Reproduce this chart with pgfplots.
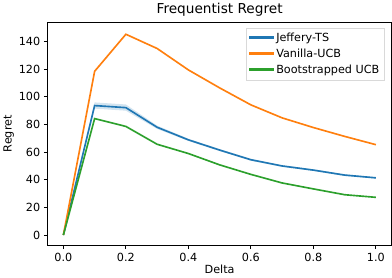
\documentclass[border=0pt]{standalone}
\usepackage{pgfplots}
\pgfplotsset{compat=1.18}
\usepackage{fontspec}
\setmainfont{DejaVu Sans}
\definecolor{tabblue}{HTML}{1F77B4}
\definecolor{taborange}{HTML}{FF7F0E}
\definecolor{tabgreen}{HTML}{2CA02C}
\begin{document}
\begin{tikzpicture}
\begin{axis}[
  width=336bp, height=218bp, scale only axis,
  xmin=-0.05, xmax=1.05, ymin=-7.4, ymax=154,
  xtick={0,0.2,0.4,0.6,0.8,1.0},
  xticklabels={0.0,0.2,0.4,0.6,0.8,1.0},
  ytick={0,20,40,60,80,100,120,140},
  tick align=outside, major tick length=3.8bp,
  tick style={black, line width=0.9bp},
  axis line style={line width=0.9bp},
  xtick pos=bottom, ytick pos=left,
  /pgf/number format/assume math mode=true,
  tick label style={font=\fontsize{11}{13}\selectfont},
  label style={font=\fontsize{11}{13}\selectfont},
  title style={font=\fontsize{13.4}{15}\selectfont, yshift=-4bp},
  title={Frequentist Regret},
  xlabel={Delta}, ylabel={Regret},
  xlabel style={yshift=3bp},
  ylabel style={yshift=-2bp},
  legend style={at={(0.98,0.975)}, anchor=north east, draw=black!15,
    font=\fontsize{11}{13}\selectfont, row sep=1.7bp, inner sep=3bp},
  legend cell align=left,
  legend image code/.code={\fill[#1] (0bp,-0.35bp) rectangle (23bp,1.45bp);},
]
\addplot[fill=tabblue, fill opacity=0.2, draw=none, forget plot] coordinates {
(0,0.3) (0.1,96) (0.2,94.5) (0.3,79.2) (0.4,69.7) (0.5,62.2) (0.6,55.2) (0.7,50.6) (0.8,47.6) (0.9,44) (1.0,41.9)
(1.0,40.9) (0.9,42.8) (0.8,46.4) (0.7,49.4) (0.6,53.8) (0.5,60.8) (0.4,68.1) (0.3,76.8) (0.2,90) (0.1,91.5) (0,-0.3)} \closedcycle;
\addplot[tabblue, line width=1.6bp] coordinates {
(0,0) (0.1,93.7) (0.2,92.2) (0.3,78) (0.4,68.9) (0.5,61.5) (0.6,54.5) (0.7,50) (0.8,47) (0.9,43.4) (1.0,41.4)};
\addlegendentry{Jeffery-TS}
\addplot[taborange, line width=1.6bp] coordinates {
(0,0) (0.1,118.5) (0.2,145.3) (0.3,135) (0.4,119.5) (0.5,106.5) (0.6,94.2) (0.7,84.8) (0.8,77.8) (0.9,71.4) (1.0,65.4)};
\addlegendentry{Vanilla-UCB}
\addplot[tabgreen, line width=1.6bp] coordinates {
(0,0) (0.1,84.3) (0.2,78.6) (0.3,65.7) (0.4,59) (0.5,50.8) (0.6,43.9) (0.7,37.7) (0.8,33.4) (0.9,29.2) (1.0,27.3)};
\addlegendentry{Bootstrapped UCB}
\end{axis}
\end{tikzpicture}
\end{document}
